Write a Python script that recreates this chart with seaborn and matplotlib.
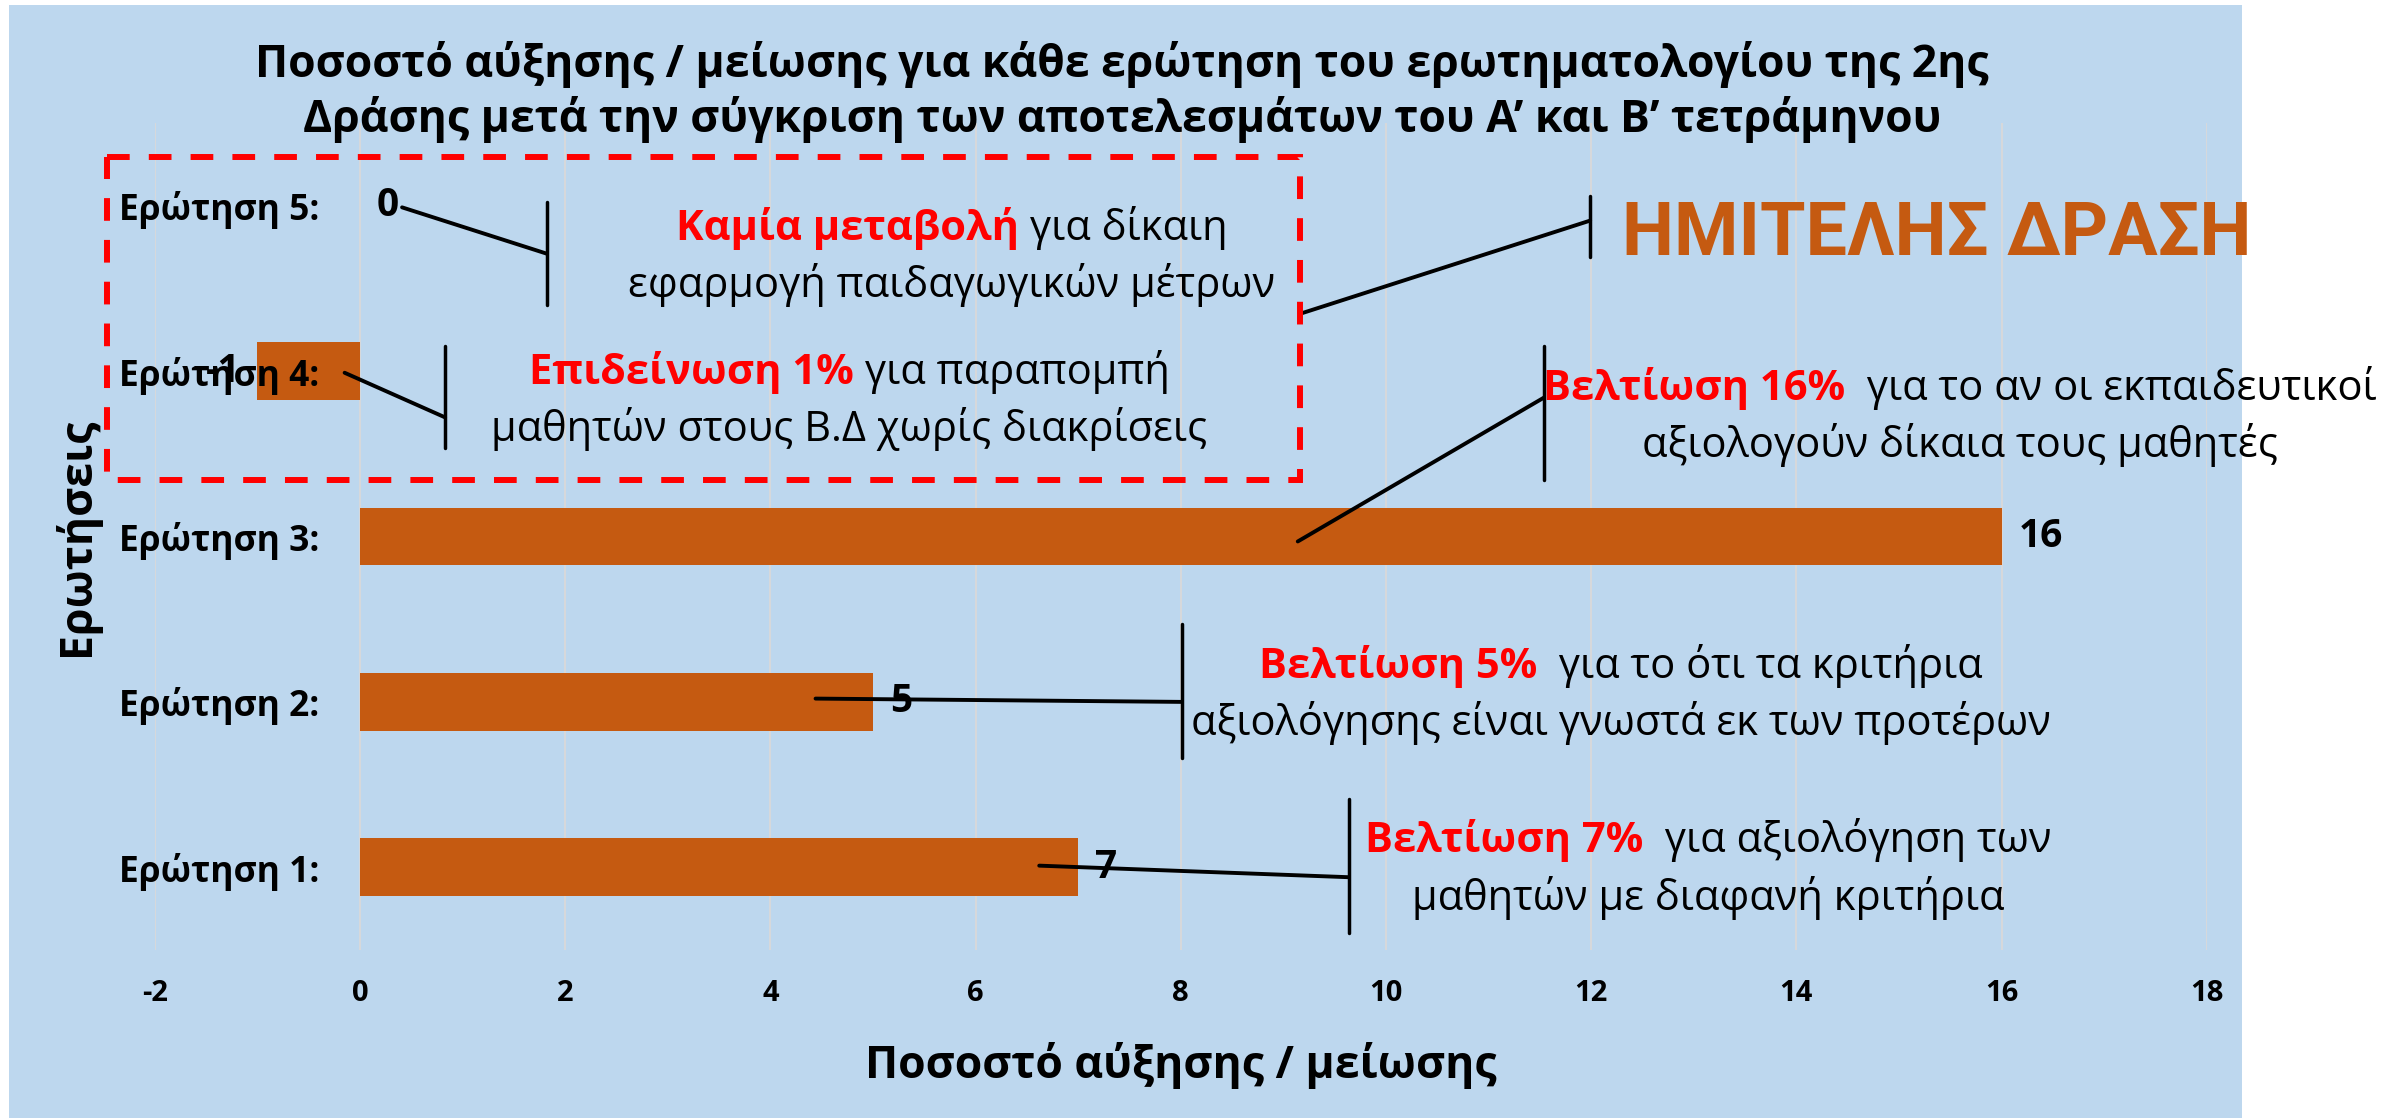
import matplotlib
matplotlib.use("Agg")
import matplotlib.pyplot as plt
from matplotlib.patches import Rectangle
import seaborn as sns
import pandas as pd

# data
questions = ["Ερώτηση 5:", "Ερώτηση 4:", "Ερώτηση 3:", "Ερώτηση 2:", "Ερώτηση 1:"]
changes = [0, -1, 16, 5, 7]
x_ticks = list(range(-2, 19, 2))

title_1 = "Ποσοστό αύξησης / μείωσης για κάθε ερώτηση του ερωτηματολογίου της 2ης"
title_2 = "Δράσης μετά την σύγκριση των αποτελεσμάτων του Α’ και Β’ τετράμηνου"
x_label = "Ποσοστό αύξησης / μείωσης"
y_label = "Ερωτήσεις"
stamp = "ΗΜΙΤΕΛΗΣ ΔΡΑΣΗ"

# callout texts, one per question (same order as questions)
note_red = ["Καμία μεταβολή", "Επιδείνωση 1%", "Βελτίωση 16%", "Βελτίωση 5%", "Βελτίωση 7%"]
note_rest = [" για δίκαιη", " για παραπομπή", "  για το αν οι εκπαιδευτικοί",
             "  για το ότι τα κριτήρια", "  για αξιολόγηση των"]
note_line2 = ["εφαρμογή παιδαγωγικών μέτρων", "μαθητών στους Β.Δ χωρίς διακρίσεις",
              "αξιολογούν δίκαια τους μαθητές", "αξιολόγησης είναι γνωστά εκ των προτέρων",
              "μαθητών με διαφανή κριτήρια"]

# callout layout in data units: text centre x, baselines of both lines,
# leader line (x0, y0, x1, y1) and the vertical tick at its end (x, ytop, ybottom)
note_cx = [5.77, 4.77, 15.59, 12.29, 13.14]
note_y1 = [0.21, 1.08, 1.175, 2.855, 3.91]
note_y2 = [0.55, 1.425, 1.52, 3.20, 4.26]
leaders = [(0.41, 0.01, 1.82, 0.29), (-0.15, 1.01, 0.83, 1.28), (9.14, 2.03, 11.54, 1.16),
           (4.44, 2.98, 8.01, 3.0), (6.62, 3.99, 9.64, 4.06)]
ticks_v = [(1.82, -0.02, 0.60), (0.83, 0.85, 1.465), (11.54, 0.85, 1.66),
           (8.01, 2.53, 3.34), (9.64, 3.59, 4.40)]

BAR = "#C55A11"
BG = "#BDD7EE"

sns.set_theme(style="white")
plt.rcParams["font.family"] = ["Open Sans", "DejaVu Sans"]
plt.rcParams["text.color"] = "black"
plt.rcParams["xtick.color"] = "black"
plt.rcParams["ytick.color"] = "black"

df = pd.DataFrame({"question": questions, "change": changes})

fig = plt.figure(figsize=(23.82, 11.18), dpi=100, facecolor="white")
fig.patches.append(Rectangle((9 / 2382, 0), 2233 / 2382, 1113 / 1118,
                             transform=fig.transFigure, facecolor=BG,
                             edgecolor="none", zorder=-10))
ax = fig.add_axes([0.06499, 0.15027, 0.86146, 0.73971])
ax.set_facecolor("none")

sns.barplot(data=df, x="change", y="question", orient="h", color=BAR,
            saturation=1, width=0.35, linewidth=0, ax=ax)

ax.set_xlim(-2, 18)
ax.set_ylim(4.5, -0.5)
ax.set_xticks(x_ticks)
ax.set_xticklabels([str(t) for t in x_ticks])
ax.grid(axis="x", color="#D9D9D9", linewidth=1.3)
ax.grid(axis="y", visible=False)
ax.set_axisbelow(True)
ax.yaxis.set_zorder(7)  # category labels are drawn over the -1 bar
for s in ax.spines.values():
    s.set_visible(False)
# value axis crosses at 0, so the category labels sit next to x = 0
ax.spines["left"].set_position(("data", 0))
ax.tick_params(axis="y", length=0, pad=29, labelsize=25.5)
ax.tick_params(axis="x", length=0, pad=21, labelsize=21)
plt.setp(ax.get_yticklabels(), fontweight="bold")
plt.setp(ax.get_xticklabels(), fontweight="bold")
ax.set_xlabel("")
ax.set_ylabel("")

vals = ax.bar_label(ax.containers[0], fmt="%g", padding=12, fontsize=28, fontweight="bold")
for v in vals:
    v.set_zorder(8)

fig.text(1122 / 2382, 1 - 77 / 1118, title_1, ha="center", va="baseline",
         fontsize=32, fontweight="bold")
fig.text(1122 / 2382, 1 - 132 / 1118, title_2, ha="center", va="baseline",
         fontsize=32, fontweight="bold")
fig.text(1181 / 2382, 1 - 1078 / 1118, x_label, ha="center", va="baseline",
         fontsize=32, fontweight="bold")
fig.text(77 / 2382, 1 - 537 / 1118, y_label, ha="center", va="center",
         rotation=90, fontsize=32, fontweight="bold")

# dashed frame round the unfinished part
ax.add_patch(Rectangle((-2.47, -0.294), 11.63, 1.952, fill=False, edgecolor="#FF0000",
                       linewidth=4.3, linestyle=(0, (3.8, 3.2)), clip_on=False, zorder=5))

# stamp with its leader
ax.plot([9.18, 11.99], [0.65, 0.09], color="black", lw=2.8, clip_on=False)
ax.plot([11.99, 11.99], [-0.06, 0.31], color="black", lw=2.5, clip_on=False)
ax.text(12.30, 0.30, stamp, color=BAR, fontsize=53, fontweight="bold",
        family=["Roboto", "DejaVu Sans"], va="baseline", ha="left", clip_on=False)

fig.canvas.draw()
rend = fig.canvas.get_renderer()
inv = ax.transData.inverted()
NOTE_FS = 30

for i in range(len(questions)):
    x0, y0, x1, y1 = leaders[i]
    ax.plot([x0, x1], [y0, y1], color="black", lw=2.8, clip_on=False, zorder=6)
    vx, vt, vb = ticks_v[i]
    ax.plot([vx, vx], [vt, vb], color="black", lw=2.5, clip_on=False, zorder=6)

    a = ax.text(0, note_y1[i], note_red[i], color="#FF0000", fontweight="bold",
                fontsize=NOTE_FS, va="baseline", ha="left")
    b = ax.text(0, note_y1[i], note_rest[i], color="black",
                fontsize=NOTE_FS, va="baseline", ha="left")
    wa = a.get_window_extent(rend).width
    wb = b.get_window_extent(rend).width
    cx = ax.transData.transform((note_cx[i], 0))[0]
    left = cx - (wa + wb) / 2
    a.set_x(inv.transform((left, 0))[0])
    b.set_x(inv.transform((left + wa, 0))[0])
    ax.text(note_cx[i], note_y2[i], note_line2[i], color="black", fontsize=NOTE_FS,
            va="baseline", ha="center")

fig.savefig("out.png", dpi=100)
